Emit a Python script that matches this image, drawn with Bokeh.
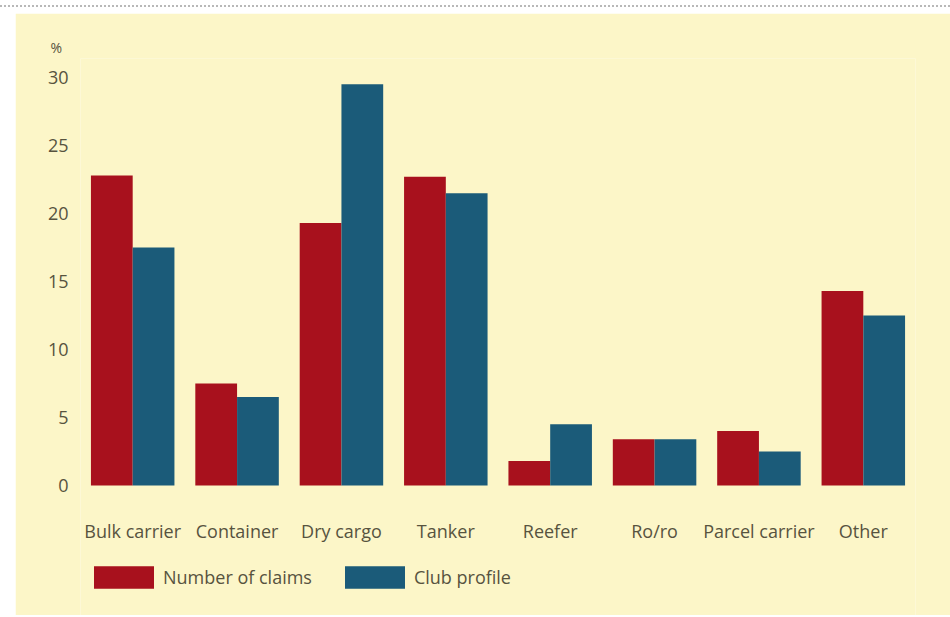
from bokeh.plotting import figure
from bokeh.models import (FactorRange, Range1d, FixedTicker, ColumnDataSource,
                          Legend, LegendItem, Title, Div)
from bokeh.transform import dodge
from bokeh.layouts import column
from bokeh.embed import file_html
from bokeh.resources import INLINE

# Share of claims vs club profile by vessel type (%)
categories = ["Bulk carrier", "Container", "Dry cargo", "Tanker",
              "Reefer", "Ro/ro", "Parcel carrier", "Other"]
number_of_claims = [22.8, 7.5, 19.3, 22.7, 1.8, 3.4, 4.0, 14.3]
club_profile = [17.5, 6.5, 29.5, 21.5, 4.5, 3.4, 2.5, 12.5]
y_ticks = [0, 5, 10, 15, 20, 25, 30]

RED = "#a8111d"
TEAL = "#1b5b79"
CREAM = "#fcf6c8"
INK = "#57533f"
FONT = "Open Sans"

source = ColumnDataSource(dict(cat=categories,
                               claims=number_of_claims,
                               club=club_profile))

# the frame runs down to the bottom edge so the category axis and the
# legend both sit inside it, below the zero line
p = figure(x_range=FactorRange(*categories, range_padding=0),
           y_range=Range1d(-9.56, 31.4),
           width=935, height=602,
           output_backend="svg", toolbar_location=None,
           min_border_left=65, min_border_right=35,
           min_border_top=45, min_border_bottom=0,
           background_fill_color=CREAM, border_fill_color=CREAM,
           outline_line_color=None)
p.margin = (6, 0, 0, 15)

r1 = p.vbar(x=dodge("cat", -0.2, range=p.x_range), top="claims", width=0.4,
            source=source, fill_color=RED, line_color=None)
r2 = p.vbar(x=dodge("cat", 0.2, range=p.x_range), top="club", width=0.4,
            source=source, fill_color=TEAL, line_color=None)

p.grid.visible = False

for ax in (p.xaxis[0], p.yaxis[0]):
    ax.axis_line_color = None
    ax.major_tick_line_color = None
    ax.minor_tick_line_color = None
    ax.major_tick_out = 0
    ax.major_label_text_font = FONT
    ax.major_label_text_color = INK
    ax.major_label_text_font_size = "18px"

p.yaxis.ticker = FixedTicker(ticks=y_ticks)
p.yaxis.major_label_standoff = 12
p.xaxis.fixed_location = 0
p.xaxis.major_label_standoff = 34

# unit marker above the value axis
p.add_layout(Title(text="%", align="left", offset=-30, standoff=4,
                   text_font=FONT, text_font_size="14px",
                   text_font_style="normal", text_color=INK), "above")

legend = Legend(items=[LegendItem(label="Number of claims", renderers=[r1]),
                       LegendItem(label="Club profile", renderers=[r2])],
                orientation="horizontal", location=(6, 24),
                padding=0, margin=0, spacing=25, label_standoff=2,
                glyph_width=75, glyph_height=28,
                background_fill_alpha=0, border_line_color=None,
                label_text_font=FONT, label_text_font_size="18px",
                label_text_color=INK)
p.add_layout(legend, "center")

rule = Div(width=950, height=7, margin=0,
           styles={"border-bottom": "2px dotted #b8b8b8"})

layout = column(rule, p, spacing=0)

open("out.html", "w").write(file_html(layout, INLINE))
